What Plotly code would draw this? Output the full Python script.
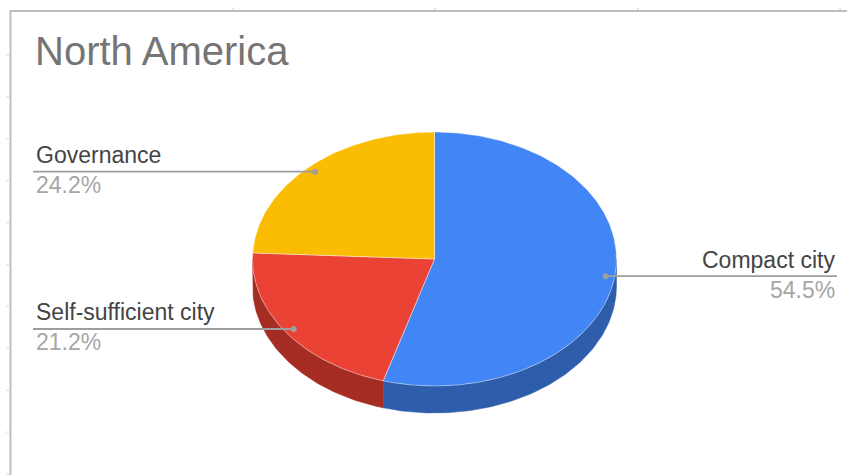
import math
import plotly.graph_objects as go

# Survey responses for North America, by theme
categories = ["Compact city", "Self-sufficient city", "Governance"]
counts = [18, 7, 8]
top_colors = ["#4285f4", "#ea4335", "#fbbc04"]
side_colors = ["#2e5eab", "#a42c23", "#b58700"]
title_text = "North America"

W, H = 847, 475
# pie geometry in pixel space (ellipse seen at a tilt, plus a visible rim)
cx, cy = 434.5, 259.0
rx, ry = 182.0, 127.0
depth = 27.0
dot_frac = 0.95


def pt(theta_deg, dy=0.0, frac=1.0):
    t = math.radians(theta_deg)
    return cx + rx * frac * math.sin(t), cy - ry * frac * math.cos(t) + dy


def arc(a, b, dy=0.0):
    n = max(2, int(abs(b - a) / 1.0) + 1)
    xs, ys = [], []
    for i in range(n):
        th = a + (b - a) * i / (n - 1)
        x, y = pt(th, dy)
        xs.append(x)
        ys.append(y)
    return xs, ys


total = sum(counts)
starts, ends = [], []
acc = 0.0
for c in counts:
    starts.append(acc / total * 360.0)
    acc += c
    ends.append(acc / total * 360.0)

fig = go.Figure()

# front rim of the disc (visible between 90° and 270°, clockwise from 12 o'clock)
for a, b, col in zip(starts, ends, side_colors):
    s, e = max(a, 90.0), min(b, 270.0)
    if s >= e:
        continue
    tx, ty = arc(s, e)
    bx, by = arc(e, s, depth)
    fig.add_trace(go.Scatter(
        x=tx + bx + [tx[0]], y=ty + by + [ty[0]],
        mode="lines", fill="toself", fillcolor=col,
        line=dict(color=col, width=0.5),
        hoverinfo="skip", showlegend=False))

# top faces of the slices
for a, b, col, name in zip(starts, ends, top_colors, categories):
    ax, ay = arc(a, b)
    xs = [cx] + ax + [cx]
    ys = [cy] + ay + [cy]
    fig.add_trace(go.Scatter(
        x=xs, y=ys, mode="lines", fill="toself", fillcolor=col,
        line=dict(color="rgba(255,255,255,0.6)", width=0.7),
        name=name, hoverinfo="skip", showlegend=False))

# leader lines, dots and labels
label_font = "Arial, Liberation Sans, sans-serif"
annotations = []
for a, b, c, name in zip(starts, ends, counts, categories):
    mid = (a + b) / 2.0
    dx, dy = pt(mid, frac=dot_frac)
    pct = f"{c / total * 100:.1f}%"
    if mid < 180:
        lx0, lx1, tx, anchor = dx, 837, 837, "right"
    else:
        lx0, lx1, tx, anchor = 33, dx, 34, "left"
    fig.add_trace(go.Scatter(
        x=[lx0, lx1], y=[dy, dy], mode="lines",
        line=dict(color="#9e9e9e", width=1.8),
        hoverinfo="skip", showlegend=False))
    fig.add_trace(go.Scatter(
        x=[dx], y=[dy], mode="markers",
        marker=dict(color="#9e9e9e", size=6),
        hoverinfo="skip", showlegend=False))
    annotations.append(dict(
        x=tx, y=dy - 16.5, text=name, showarrow=False,
        xanchor=anchor, yanchor="middle", xref="x", yref="y",
        font=dict(family=label_font, size=23, color="#444444")))
    annotations.append(dict(
        x=tx, y=dy + 13.5, text=pct, showarrow=False,
        xanchor=anchor, yanchor="middle", xref="x", yref="y",
        font=dict(family=label_font, size=23, color="#a6a6a6")))

annotations.append(dict(
    x=33, y=51, text=title_text, showarrow=False,
    xanchor="left", yanchor="middle", xref="x", yref="y",
    font=dict(family=label_font, size=40, color="#757575")))

# chart frame and faint sheet-grid marks
shapes = [
    dict(type="line", xref="x", yref="y", x0=10, y0=11, x1=W, y1=11,
         line=dict(color="#bdbdbd", width=2)),
    dict(type="line", xref="x", yref="y", x0=10.5, y0=10, x1=10.5, y1=H,
         line=dict(color="#bdbdbd", width=2)),
]
gy = 55.0
while gy < H:
    shapes.append(dict(type="line", xref="x", yref="y", x0=6.5, y0=gy,
                       x1=9, y1=gy, line=dict(color="#e0e0e0", width=1.5)))
    gy += 41.9
for gx in [233, 435, 638, 840]:
    shapes.append(dict(type="line", xref="x", yref="y", x0=gx, y0=8,
                       x1=gx, y1=10, line=dict(color="#e0e0e0", width=1.5)))

fig.update_layout(
    width=W, height=H,
    margin=dict(l=0, r=0, t=0, b=0),
    paper_bgcolor="white", plot_bgcolor="white",
    xaxis=dict(range=[0, W], visible=False, fixedrange=True),
    yaxis=dict(range=[H, 0], visible=False, fixedrange=True),
    annotations=annotations, shapes=shapes,
    showlegend=False,
)

fig.write_html("out.html")
